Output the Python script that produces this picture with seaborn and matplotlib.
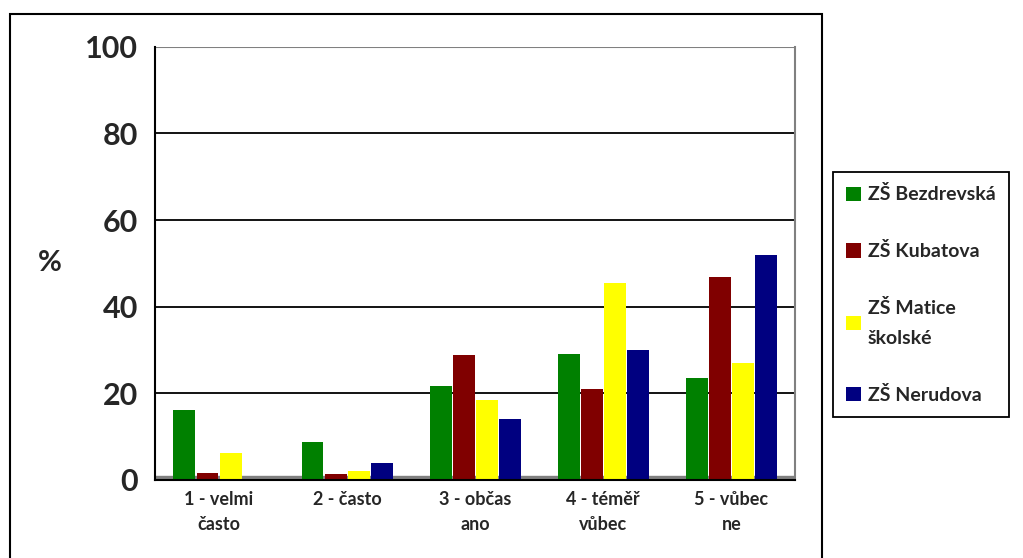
import matplotlib
matplotlib.use("Agg")
import matplotlib.pyplot as plt
import seaborn as sns
import pandas as pd
from matplotlib.patches import Rectangle

categories = ["1 - velmi\nčasto", "2 - často", "3 - občas\nano", "4 - téměř\nvůbec", "5 - vůbec\nne"]
schools = ["ZŠ Bezdrevská", "ZŠ Kubatova", "ZŠ Matice\nškolské", "ZŠ Nerudova"]
bezdrevska = [16.2, 8.8, 21.6, 29.0, 23.5]
kubatova = [1.5, 1.3, 28.8, 21.0, 46.8]
matice = [6.3, 2.0, 18.4, 45.5, 27.0]
nerudova = [0.3, 4.0, 14.0, 30.0, 52.0]
colors = ["#008000", "#800000", "#FFFF00", "#000080"]

rows = []
for school, vals in zip(schools, [bezdrevska, kubatova, matice, nerudova]):
    for cat, v in zip(categories, vals):
        rows.append({"kategorie": cat, "skola": school, "procent": v})
df = pd.DataFrame(rows)

sns.set_style("white")
plt.rcParams["font.family"] = ["Lato", "DejaVu Sans"]

fig = plt.figure(figsize=(10.23, 5.58), dpi=100)
ax = fig.add_axes([0.1515, 0.14, 0.626, 0.776])

sns.barplot(data=df, x="kategorie", y="procent", hue="skola", palette=colors,
            saturation=1, width=0.72, gap=0.05, edgecolor="none", ax=ax, legend=True)

ax.set_ylim(0, 100)
ax.set_xlim(-0.5, 4.5)
ax.set_yticks([0, 20, 40, 60, 80, 100])
for y in [20, 40, 60, 80]:
    ax.axhline(y, color="black", lw=1.3, zorder=0)
ax.axhline(100, color="#808080", lw=1.5, zorder=0)
ax.axhspan(0, 1.0, color="#808080", zorder=0.5)

ax.set_xticks([-0.5, 0.5, 1.5, 2.5, 3.5, 4.5], minor=True)
ax.set_xticks(range(5))
ax.set_xticklabels(categories, fontsize=13, fontweight="bold", linespacing=1.6)
ax.tick_params(axis="x", which="major", length=0, pad=8)
ax.tick_params(axis="x", which="minor", length=6, width=1.3, color="black", direction="out")
ax.tick_params(axis="y", length=6, width=1.3, color="black", direction="out", pad=6)
for t in ax.get_yticklabels():
    t.set_fontsize(22)
    t.set_fontweight("bold")

ax.set_xlabel("")
ax.set_ylabel("%", fontsize=21, fontweight="bold", rotation=0, va="center")
ax.yaxis.set_label_coords(-0.165, 0.5)

for side in ["left", "bottom"]:
    ax.spines[side].set_color("black")
    ax.spines[side].set_linewidth(1.5)
ax.spines["top"].set_visible(False)
ax.spines["right"].set_color("#808080")
ax.spines["right"].set_linewidth(1.5)

handles, labels = ax.get_legend_handles_labels()
ax.legend_.remove()
leg = fig.legend(handles, labels, loc="upper left", bbox_to_anchor=(0.814, 0.692),
                 frameon=True, fancybox=False, edgecolor="black", framealpha=1,
                 prop={"size": 14, "weight": "bold"}, handlelength=0.75, handleheight=0.75,
                 handletextpad=0.35, labelspacing=2.0, borderpad=0.7, borderaxespad=0)
leg.get_frame().set_linewidth(1.3)
for t in leg.get_texts():
    t.set_linespacing(1.9)

fig.patches.append(Rectangle((10 / 1023, -0.01), 812 / 1023, 1 - 14 / 558 + 0.01,
                             transform=fig.transFigure, fill=False, edgecolor="black", lw=1.5))

fig.savefig("out.png", dpi=100)
